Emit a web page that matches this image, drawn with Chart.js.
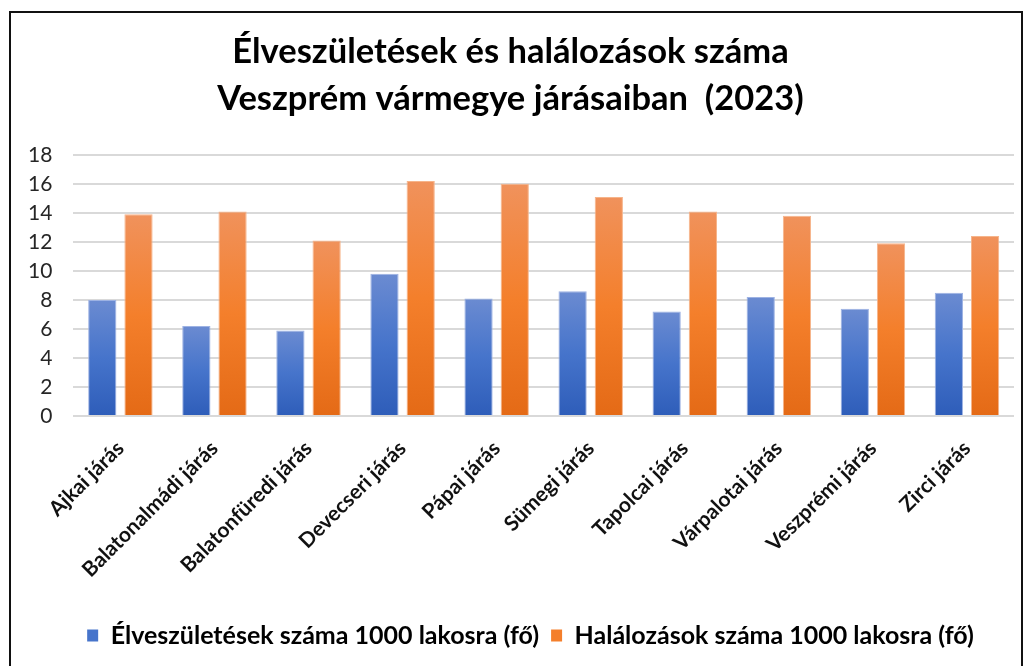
<!DOCTYPE html>
<html><head><meta charset="utf-8">
<script src="https://cdn.jsdelivr.net/npm/chart.js@4.4.1/dist/chart.umd.min.js"></script>
<style>
html,body{margin:0;padding:0;background:#fff;width:1029px;height:666px;overflow:hidden;}
#frame{position:absolute;left:9px;top:11px;width:1014px;height:700px;border:2px solid #111;box-sizing:border-box;}
#wrap{position:absolute;left:0;top:0;width:1029px;height:666px;}
</style></head>
<body>
<div id="frame"></div>
<div id="wrap"><canvas id="c" width="1029" height="666"></canvas></div>
<script>
const categories = ["Ajkai járás","Balatonalmádi járás","Balatonfüredi járás","Devecseri járás","Pápai járás","Sümegi járás","Tapolcai járás","Várpalotai járás","Veszprémi járás","Zirci járás"];
const births = [8.0, 6.2, 5.9, 9.8, 8.1, 8.6, 7.2, 8.2, 7.4, 8.5];
const deaths = [13.9, 14.1, 12.1, 16.2, 16.0, 15.1, 14.1, 13.8, 11.9, 12.4];
const seriesNames = ["Élveszületések száma 1000 lakosra (fő)", "Halálozások száma 1000 lakosra (fő)"];
const titleLines = ["Élveszületések és halálozások száma", "Veszprém vármegye járásaiban  (2023)"];
const yTicks = [0,2,4,6,8,10,12,14,16,18];

const FONT = "Lato, 'Open Sans', sans-serif";

function barGradient(stops){
  return function(ctx){
    const chart = ctx.chart;
    if(!chart.chartArea || ctx.type !== 'data') return stops[1];
    const ys = chart.scales.y;
    const v = ctx.parsed ? ctx.parsed.y : ctx.raw;
    const top = ys.getPixelForValue(v);
    const bot = ys.getPixelForValue(0);
    if(!isFinite(top) || !isFinite(bot) || top === bot) return stops[1];
    const g = chart.ctx.createLinearGradient(0, top, 0, bot);
    g.addColorStop(0, stops[0]);
    g.addColorStop(0.5, stops[1]);
    g.addColorStop(1, stops[2]);
    return g;
  };
}
const blueStops = ["#6B8BD1", "#4674CB", "#2E5DB9"];
const orangeStops = ["#F0925C", "#F47F2B", "#E46A16"];

const legendShift = {
  id: 'legendShift',
  afterLayout(chart){
    if(chart.legend){ chart.legend.left += 20; chart.legend.right += 20; }
  }
};

new Chart(document.getElementById('c'), {
  type: 'bar',
  data: {
    labels: categories,
    datasets: [
      { label: seriesNames[0], data: births, backgroundColor: barGradient(blueStops), borderColor: "#9DB2E3", borderWidth: 1, categoryPercentage: 0.77, barPercentage: 0.78 },
      { label: seriesNames[1], data: deaths, backgroundColor: barGradient(orangeStops), borderColor: "#F6B48A", borderWidth: 1, categoryPercentage: 0.77, barPercentage: 0.78 }
    ]
  },
  plugins: [legendShift],
  options: {
    responsive: false,
    animation: false,
    devicePixelRatio: 1,
    layout: { padding: { left: 7, right: 15, top: 28, bottom: 8 } },
    plugins: {
      title: {
        display: true,
        text: titleLines,
        color: "#000",
        font: { family: FONT, size: 34.5, weight: 'bold', lineHeight: 1.36 },
        padding: { top: 0, bottom: 33 }
      },
      legend: {
        position: 'bottom',
        labels: {
          color: "#000",
          font: { family: FONT, size: 25, weight: 'bold' },
          boxWidth: 11, boxHeight: 12, padding: 12,
          generateLabels: function(chart){
            return chart.data.datasets.map((ds, i) => ({
              text: ds.label,
              fillStyle: i === 0 ? "#4674CB" : "#F47F2B",
              strokeStyle: i === 0 ? "#4674CB" : "#F47F2B",
              lineWidth: 0,
              datasetIndex: i,
              hidden: false
            }));
          }
        }
      },
      tooltip: { enabled: false }
    },
    scales: {
      x: {
        grid: { display: false, drawTicks: false },
        border: { display: false },
        ticks: { color: "#111", font: { family: FONT, size: 21, weight: 'bold' }, maxRotation: 45, minRotation: 45, padding: 20 },
        afterFit: (axis) => { axis.height = 195; }
      },
      y: {
        min: 0, max: 18,
        afterBuildTicks: (axis) => { axis.ticks = yTicks.map(v => ({ value: v })); },
        grid: { color: "#D9D9D9", lineWidth: 2, drawTicks: false },
        border: { display: false },
        ticks: { color: "#262626", font: { family: FONT, size: 21 }, padding: 21 }
      }
    }
  }
});
</script>
</body></html>
